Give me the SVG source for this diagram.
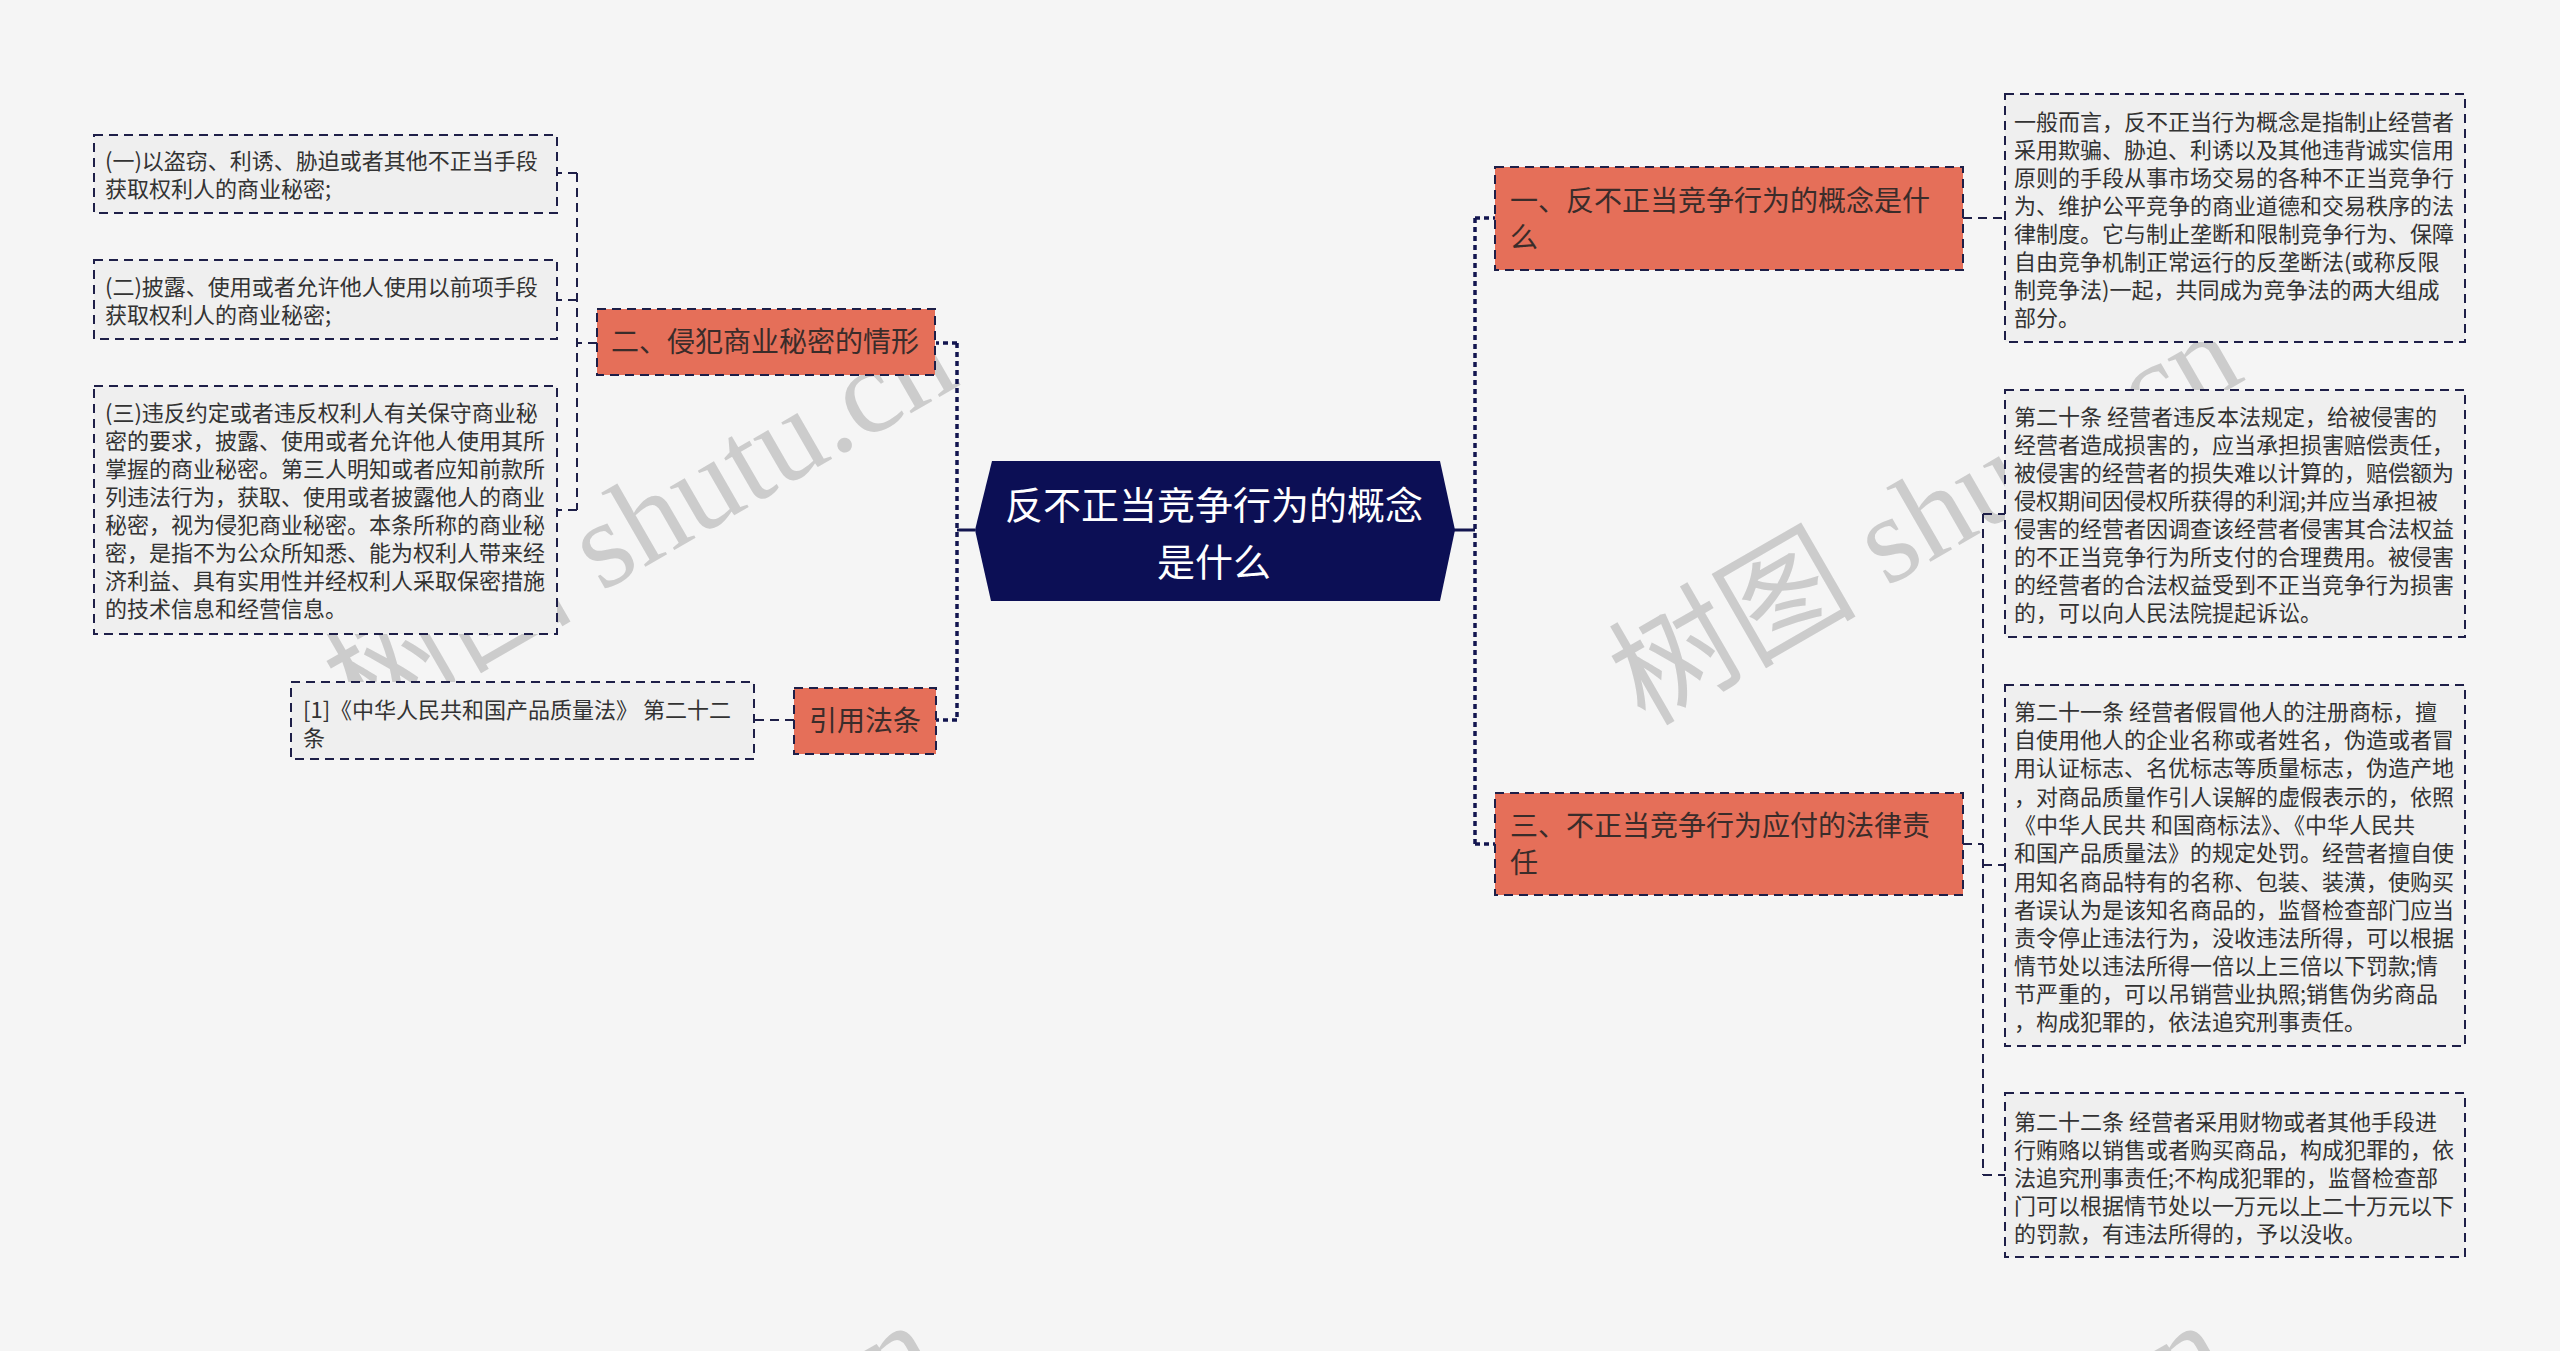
<svg xmlns="http://www.w3.org/2000/svg" width="2560" height="1351" viewBox="0 0 2560 1351">
<style>
.bg{fill:#f5f5f5}
.wm{font-family:"Liberation Serif","Noto Sans CJK SC",serif;font-size:124px;fill:#c4c4c4;fill-opacity:0.85}
.leaf rect{fill:#efefef;stroke:#1e1f48;stroke-width:2;stroke-dasharray:9 6}
.leaf text{font-family:"Noto Sans CJK SC","Noto Sans",sans-serif;font-size:22px;fill:#333333}
.br rect{fill:#e56f59;stroke:#1e1f48;stroke-width:2;stroke-dasharray:9 6}
.br text{font-family:"Noto Sans CJK SC","Noto Sans",sans-serif;font-size:28px;fill:#3a2c2a}
.root polygon{fill:#0c0f55}
.root text{font-family:"Noto Sans CJK SC","Noto Sans",sans-serif;font-size:38px;fill:#ffffff;text-anchor:middle}
.solid{stroke:#12154f;stroke-width:3;fill:none}
.dot{stroke:#12154f;stroke-width:3.5;fill:none;stroke-dasharray:5 4}
.dash{stroke:#1e1f48;stroke-width:2;fill:none;stroke-dasharray:9 6}
</style>
<rect class="bg" x="0" y="0" width="2560" height="1351"/>

<g id="watermarks">
<text class="wm" x="645" y="562" text-anchor="middle" transform="rotate(-30 645 530)">树图 shutu.cn</text>
<text class="wm" x="1930" y="557" text-anchor="middle" transform="rotate(-30 1930 525)">树图 shutu.cn</text>
<text class="wm" x="625" y="1550" text-anchor="middle" transform="rotate(-30 625 1518)">树图 shutu.cn</text>
<text class="wm" x="1915" y="1550" text-anchor="middle" transform="rotate(-30 1915 1518)">树图 shutu.cn</text>
</g>

<g id="connectors">
<line class="solid" x1="975" y1="530" x2="957" y2="530"/>
<line class="dot" x1="957" y1="343" x2="957" y2="720"/>
<line class="dot" x1="957" y1="343" x2="936" y2="343"/>
<line class="dot" x1="957" y1="720" x2="936" y2="720"/>
<line class="dash" x1="597" y1="343" x2="577" y2="343"/>
<line class="dash" x1="577" y1="173" x2="577" y2="510"/>
<line class="dash" x1="577" y1="173" x2="557" y2="173"/>
<line class="dash" x1="577" y1="300" x2="557" y2="300"/>
<line class="dash" x1="577" y1="510" x2="557" y2="510"/>
<line class="dash" x1="794" y1="720" x2="754" y2="720"/>
<line class="solid" x1="1453" y1="530" x2="1475" y2="530"/>
<line class="dot" x1="1475" y1="218" x2="1475" y2="844"/>
<line class="dot" x1="1475" y1="218" x2="1495" y2="218"/>
<line class="dot" x1="1475" y1="844" x2="1495" y2="844"/>
<line class="dash" x1="1963" y1="218" x2="2005" y2="218"/>
<line class="dash" x1="1963" y1="844" x2="1983" y2="844"/>
<line class="dash" x1="1983" y1="514" x2="1983" y2="1175"/>
<line class="dash" x1="1983" y1="514" x2="2005" y2="514"/>
<line class="dash" x1="1983" y1="865" x2="2005" y2="865"/>
<line class="dash" x1="1983" y1="1175" x2="2005" y2="1175"/>
</g>

<g id="root" class="root">
<polygon points="975,530 992,461 1440,461 1455,530 1440,601 991,601"/>
<text x="1214" y="519">反不正当竞争行为的概念</text>
<text x="1214" y="576">是什么</text>
</g>

<g id="branch1" class="br">
<rect x="1495" y="167" width="468" height="103"/>
<text x="1510" y="211">一、反不正当竞争行为的概念是什</text>
<text x="1510" y="248">么</text>
</g>

<g id="branch2" class="br">
<rect x="597" y="309" width="338" height="66"/>
<text x="611" y="352">二、侵犯商业秘密的情形</text>
</g>

<g id="branch3" class="br">
<rect x="1495" y="793" width="468" height="102"/>
<text x="1510" y="836">三、不正当竞争行为应付的法律责</text>
<text x="1510" y="873">任</text>
</g>

<g id="branch4" class="br">
<rect x="794" y="688" width="142" height="66"/>
<text x="809" y="731">引用法条</text>
</g>

<g id="leafA" class="leaf">
<rect x="2005" y="94" width="460" height="248"/>
<text x="2014" y="130">一般而言，反不正当行为概念是指制止经营者</text>
<text x="2014" y="158">采用欺骗、胁迫、利诱以及其他违背诚实信用</text>
<text x="2014" y="186">原则的手段从事市场交易的各种不正当竞争行</text>
<text x="2014" y="214">为、维护公平竞争的商业道德和交易秩序的法</text>
<text x="2014" y="242">律制度。它与制止垄断和限制竞争行为、保障</text>
<text x="2014" y="270">自由竞争机制正常运行的反垄断法(或称反限</text>
<text x="2014" y="298">制竞争法)一起，共同成为竞争法的两大组成</text>
<text x="2014" y="326">部分。</text>
</g>

<g id="leafB" class="leaf">
<rect x="2005" y="390" width="460" height="247"/>
<text x="2014" y="425">第二十条 经营者违反本法规定，给被侵害的</text>
<text x="2014" y="453">经营者造成损害的，应当承担损害赔偿责任，</text>
<text x="2014" y="481">被侵害的经营者的损失难以计算的，赔偿额为</text>
<text x="2014" y="509">侵权期间因侵权所获得的利润;并应当承担被</text>
<text x="2014" y="537">侵害的经营者因调查该经营者侵害其合法权益</text>
<text x="2014" y="565">的不正当竞争行为所支付的合理费用。被侵害</text>
<text x="2014" y="593">的经营者的合法权益受到不正当竞争行为损害</text>
<text x="2014" y="621">的，可以向人民法院提起诉讼。</text>
</g>

<g id="leafC" class="leaf">
<rect x="2005" y="685" width="460" height="361"/>
<text x="2014" y="720">第二十一条 经营者假冒他人的注册商标，擅</text>
<text x="2014" y="748">自使用他人的企业名称或者姓名，伪造或者冒</text>
<text x="2014" y="776">用认证标志、名优标志等质量标志，伪造产地</text>
<text x="2014" y="805">，对商品质量作引人误解的虚假表示的，依照</text>
<text x="2014" y="833">《中华人民共 和国商标法》、《中华人民共</text>
<text x="2014" y="861">和国产品质量法》的规定处罚。经营者擅自使</text>
<text x="2014" y="890">用知名商品特有的名称、包装、装潢，使购买</text>
<text x="2014" y="918">者误认为是该知名商品的，监督检查部门应当</text>
<text x="2014" y="946">责令停止违法行为，没收违法所得，可以根据</text>
<text x="2014" y="974">情节处以违法所得一倍以上三倍以下罚款;情</text>
<text x="2014" y="1002">节严重的，可以吊销营业执照;销售伪劣商品</text>
<text x="2014" y="1030">，构成犯罪的，依法追究刑事责任。</text>
</g>

<g id="leafD" class="leaf">
<rect x="2005" y="1093" width="460" height="164"/>
<text x="2014" y="1130">第二十二条 经营者采用财物或者其他手段进</text>
<text x="2014" y="1158">行贿赂以销售或者购买商品，构成犯罪的，依</text>
<text x="2014" y="1186">法追究刑事责任;不构成犯罪的，监督检查部</text>
<text x="2014" y="1214">门可以根据情节处以一万元以上二十万元以下</text>
<text x="2014" y="1242">的罚款，有违法所得的，予以没收。</text>
</g>

<g id="leafL1" class="leaf">
<rect x="94" y="135" width="463" height="78"/>
<text x="105" y="169">(一)以盗窃、利诱、胁迫或者其他不正当手段</text>
<text x="105" y="197">获取权利人的商业秘密;</text>
</g>

<g id="leafL2" class="leaf">
<rect x="94" y="260" width="463" height="79"/>
<text x="105" y="295">(二)披露、使用或者允许他人使用以前项手段</text>
<text x="105" y="323">获取权利人的商业秘密;</text>
</g>

<g id="leafL3" class="leaf">
<rect x="94" y="386" width="463" height="248"/>
<text x="105" y="421">(三)违反约定或者违反权利人有关保守商业秘</text>
<text x="105" y="449">密的要求，披露、使用或者允许他人使用其所</text>
<text x="105" y="477">掌握的商业秘密。第三人明知或者应知前款所</text>
<text x="105" y="505">列违法行为，获取、使用或者披露他人的商业</text>
<text x="105" y="533">秘密，视为侵犯商业秘密。本条所称的商业秘</text>
<text x="105" y="561">密，是指不为公众所知悉、能为权利人带来经</text>
<text x="105" y="589">济利益、具有实用性并经权利人采取保密措施</text>
<text x="105" y="617">的技术信息和经营信息。</text>
</g>

<g id="leafL4" class="leaf">
<rect x="291" y="682" width="463" height="77"/>
<text x="303" y="718">[1]《中华人民共和国产品质量法》 第二十二</text>
<text x="303" y="746">条</text>
</g>
</svg>
